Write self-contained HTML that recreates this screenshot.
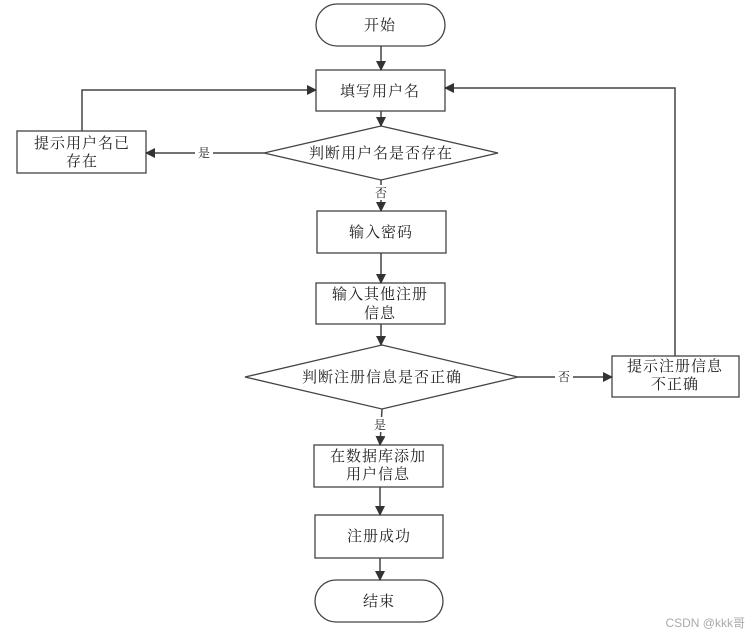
<!DOCTYPE html>
<html><head><meta charset="utf-8"><style>
body{margin:0;background:#fff}
text{font-family:"Liberation Serif","Noto Serif CJK SC","WenQuanYi Zen Hei",serif;fill:#222}
</style></head><body>
<svg width="754" height="636" viewBox="0 0 754 636" xmlns="http://www.w3.org/2000/svg">
<defs><marker id="a" markerWidth="10" markerHeight="10" refX="9" refY="5" orient="auto" markerUnits="userSpaceOnUse"><path d="M0,0 L10,5 L0,10 z" fill="#333"/></marker></defs>
<g fill="#fff" stroke="#444" stroke-width="1.3">
<rect x="316" y="4" width="129" height="42" rx="21"/>
<rect x="316" y="70" width="129" height="41"/>
<polygon points="264,153 381,126 498,153 381,180"/>
<rect x="17" y="131" width="129" height="42"/>
<rect x="317" y="211" width="129" height="42"/>
<rect x="316" y="283" width="129" height="41"/>
<polygon points="245,377 382,345 518,377 382,409"/>
<rect x="612" y="356" width="127" height="41"/>
<rect x="314" y="445" width="129" height="42"/>
<rect x="315" y="515" width="128" height="43"/>
<rect x="315" y="580" width="128" height="42" rx="21"/>
</g>
<g stroke="#444" stroke-width="1.5" fill="none" marker-end="url(#a)">
<line x1="381" y1="46" x2="381" y2="70"/>
<line x1="381" y1="111" x2="381" y2="126"/>
<line x1="381" y1="180" x2="381" y2="211"/>
<line x1="381" y1="253" x2="381" y2="283"/>
<line x1="381" y1="324" x2="381" y2="345"/>
<line x1="382" y1="409" x2="380" y2="445"/>
<line x1="380" y1="487" x2="380" y2="515"/>
<line x1="380" y1="558" x2="380" y2="580"/>
<polyline points="264,153 146,153"/>
<polyline points="82,131 82,90 316,90"/>
<polyline points="518,377 612,377"/>
<polyline points="675,356 675,88 445,88"/>
</g>
<g fill="#fff"><rect x="195" y="145" width="18" height="15"/><rect x="373" y="185" width="16" height="15"/><rect x="555" y="369" width="18" height="15"/><rect x="372" y="417" width="16" height="15"/></g>
<g font-size="15" text-anchor="middle" letter-spacing="1">
<text x="380" y="30">开始</text>
<text x="380" y="96">填写用户名</text>
<text x="381" y="158">判断用户名是否存在</text>
<text x="82" y="148">提示用户名已</text>
<text x="82" y="166">存在</text>
<text x="381" y="237">输入密码</text>
<text x="380" y="299">输入其他注册</text>
<text x="380" y="318">信息</text>
<text x="382" y="382">判断注册信息是否正确</text>
<text x="675" y="371">提示注册信息</text>
<text x="675" y="389">不正确</text>
<text x="378" y="461">在数据库添加</text>
<text x="378" y="479">用户信息</text>
<text x="379" y="541">注册成功</text>
<text x="379" y="606">结束</text>
</g>
<g font-size="12" text-anchor="middle">
<text x="204" y="157">是</text>
<text x="381" y="197">否</text>
<text x="564" y="381">否</text>
<text x="380" y="429">是</text>
</g>
<text x="745" y="627" font-size="12" text-anchor="end" style="fill:#aaa;font-family:'Liberation Sans','Noto Sans CJK SC',sans-serif">CSDN @kkk哥</text>
</svg>
</body></html>
